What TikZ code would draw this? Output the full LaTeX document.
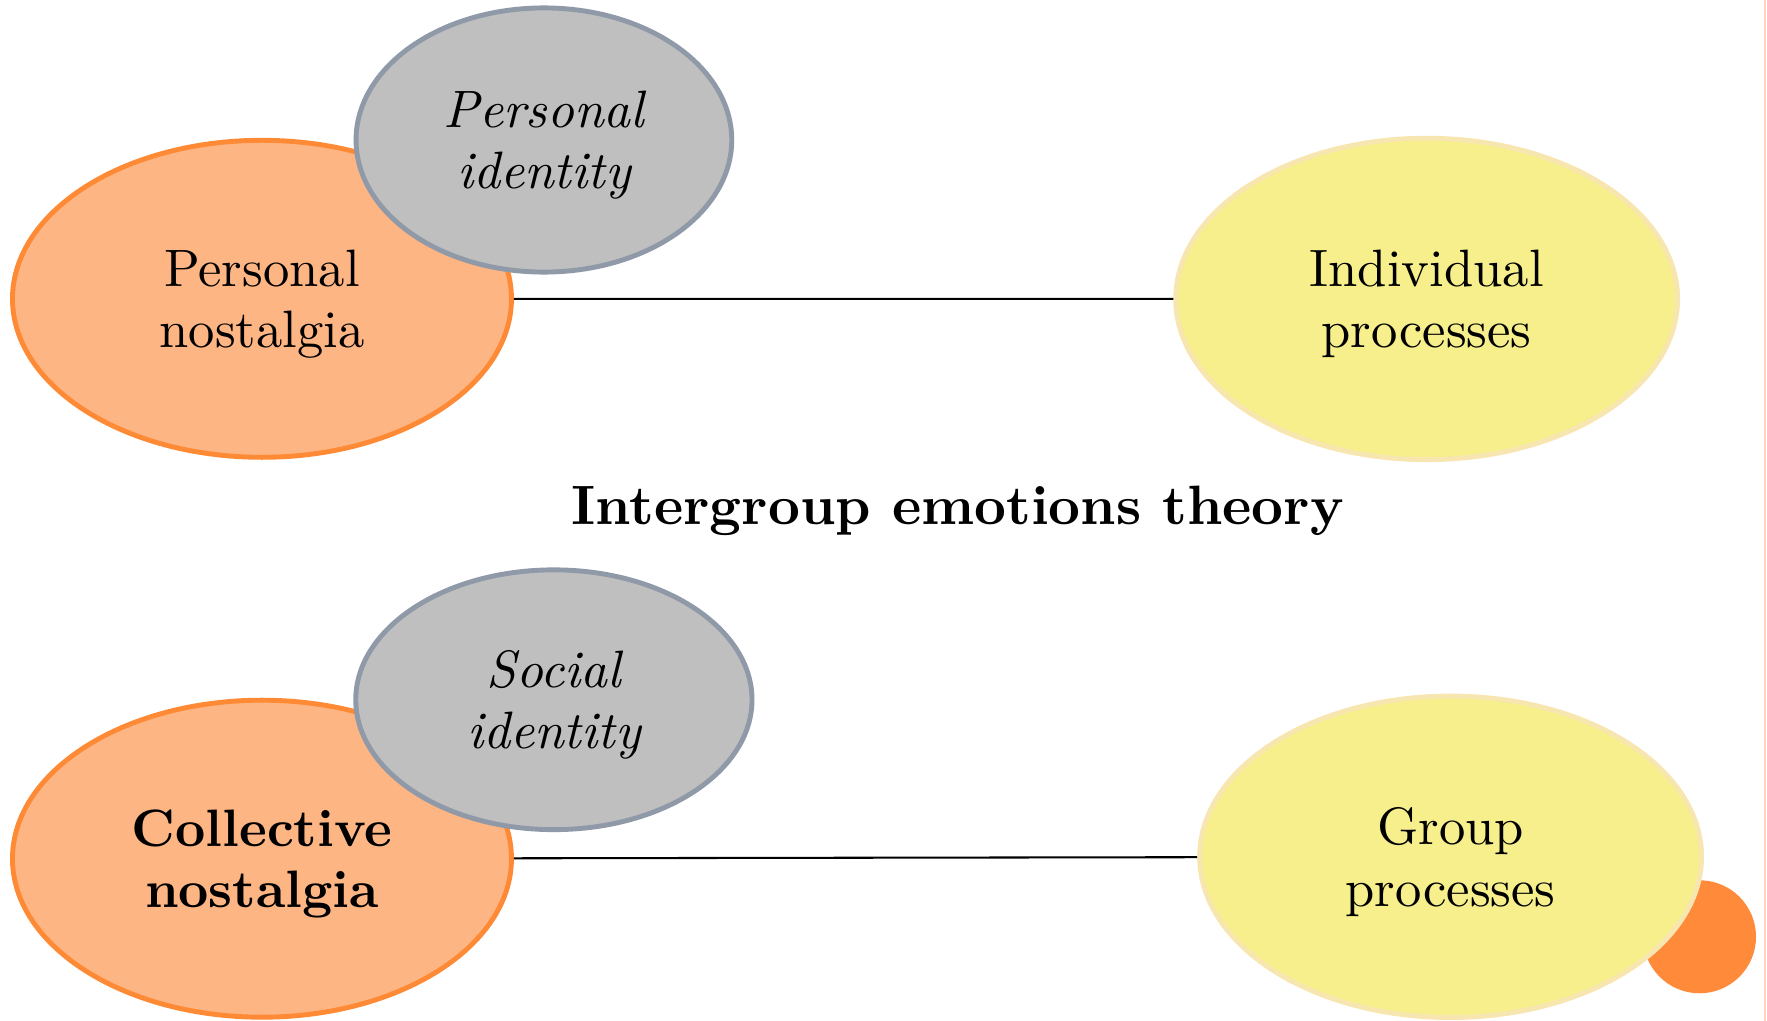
\documentclass[tikz,border=0pt]{standalone}
\usetikzlibrary{shapes.geometric}

\definecolor{nostfill}{HTML}{FDB584}
\definecolor{nostline}{HTML}{FE8A36}
\definecolor{identfill}{HTML}{BFBFBF}
\definecolor{identline}{HTML}{8F99A8}
\definecolor{procfill}{HTML}{F6EF8C}
\definecolor{procline}{HTML}{F8E6B0}
\definecolor{dotfill}{HTML}{FE8A3A}

\begin{document}
\begin{tikzpicture}[
  every node/.style={font=\fontsize{10.2}{11.9}\selectfont},
  bubble/.style={ellipse, line width=0.95pt, inner sep=0pt, align=center,
    text depth=0pt, execute at begin node={\vspace*{2.6pt}}},
  nost/.style={bubble, draw=nostline, fill=nostfill,
    minimum width=3.4cm, minimum height=2.16cm},
  ident/.style={bubble, draw=identline, fill=identfill,
    font=\fontsize{10.2}{11.9}\selectfont\itshape},
  proc/.style={bubble, draw=procline, fill=procfill,
    minimum width=3.42cm, minimum height=2.19cm}
]
  \useasboundingbox (0,0) rectangle (12.04,6.955);

  % right page edge
  \draw[nostline!35, line width=0.3pt] (12.025,0) -- (12.025,6.955);

  % Upper row: personal level
  \node[nost] (pnost) at (1.785,4.919) {Personal\\nostalgia};
  \node[ident, minimum width=2.56cm, minimum height=1.80cm] (pident) at (3.706,6.001) {Personal\\identity};
  \node[proc] (indiv) at (9.721,4.918) {Individual\\processes};

  % Theory label
  \node[font=\fontsize{10.75}{12}\selectfont\bfseries] (theory) at (6.526,3.475) {Intergroup emotions theory};

  % Lower row: collective level
  \node[nost, font=\fontsize{10.2}{11.9}\selectfont\bfseries] (cnost) at (1.785,1.104) {Collective\\nostalgia};
  \node[ident, minimum width=2.70cm, minimum height=1.77cm] (sident) at (3.774,2.187) {Social\\identity};
  \node[circle, fill=dotfill, minimum size=0.77cm, inner sep=0pt] (dot) at (11.58,0.572) {};
  \node[proc] (group) at (9.884,1.117) {Group\\processes};

  % Links
  \draw (pnost) -- (indiv);
  \draw (cnost) -- (group);
\end{tikzpicture}
\end{document}
